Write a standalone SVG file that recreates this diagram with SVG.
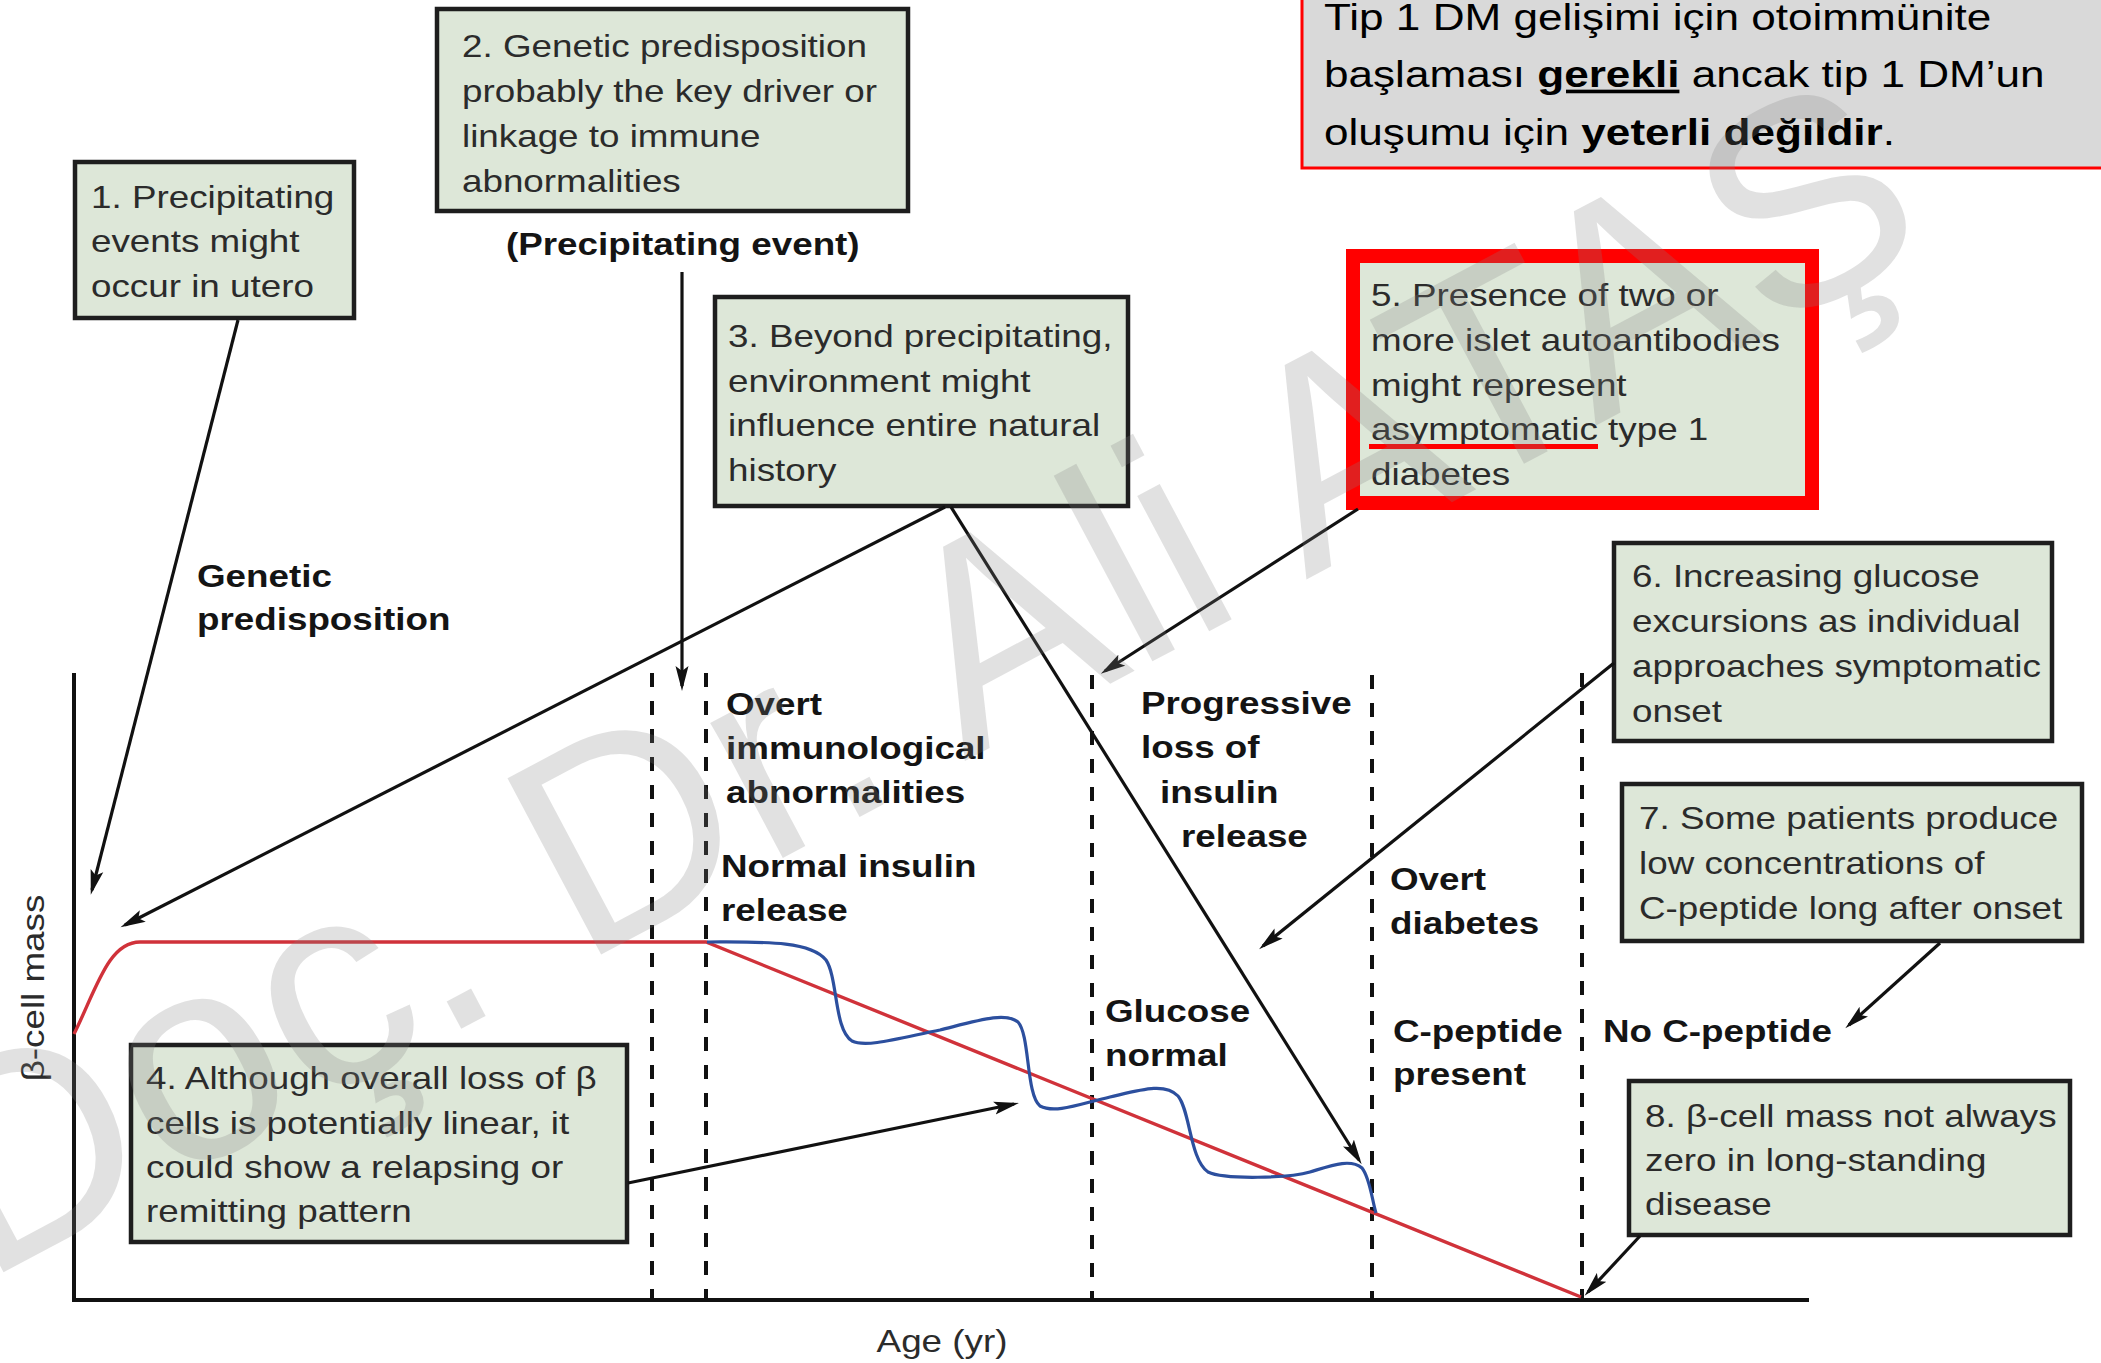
<svg xmlns="http://www.w3.org/2000/svg" width="2101" height="1363" viewBox="0 0 2101 1363">
<defs>
<style>
.box{fill:#dde7d8;stroke:#1e1e1e;stroke-width:4.5}
.bt{font-family:"Liberation Sans",Arial,sans-serif;font-size:32px;fill:#2b2b2b}
.lb{font-family:"Liberation Sans",Arial,sans-serif;font-size:32px;font-weight:bold;fill:#141414}
.tr{font-family:"Liberation Sans",Arial,sans-serif;font-size:36px;fill:#000}
.arr{stroke:#111;stroke-width:3.2;fill:none;marker-end:url(#ah)}
.dash{stroke:#111;stroke-width:4;stroke-dasharray:14 14;fill:none}
.axis{stroke:#111;stroke-width:4;fill:none}
</style>
<marker id="ah" markerUnits="userSpaceOnUse" markerWidth="26" markerHeight="14" refX="20" refY="7" orient="auto">
<path d="M0,0.5 L25,7 L0,13.5 L5,7 z" fill="#111"/>
</marker>
</defs>
<rect x="0" y="0" width="2101" height="1363" fill="#fff"/>

<g id="note">
<rect x="1302" y="-6" width="840" height="174" fill="#d9d9d9" stroke="#ff0000" stroke-width="3"/>
<g transform="translate(1324,0) scale(1.225,1)">
<text class="tr" x="0" y="30">Tip 1 DM gelişimi için otoimmünite</text>
<text class="tr" x="0" y="87">başlaması <tspan font-weight="bold" text-decoration="underline">gerekli</tspan> ancak tip 1 DM’un</text>
<text class="tr" x="0" y="145">oluşumu için <tspan font-weight="bold">yeterli değildir</tspan>.</text>
</g>
</g>

<g id="chart">
<line class="axis" x1="74" y1="673" x2="74" y2="1302"/>
<line class="axis" x1="72" y1="1300" x2="1809" y2="1300"/>
<line class="dash" x1="652" y1="673" x2="652" y2="1300"/>
<line class="dash" x1="706" y1="673" x2="706" y2="1300"/>
<line class="dash" x1="1092" y1="675" x2="1092" y2="1300"/>
<line class="dash" x1="1372" y1="675" x2="1372" y2="1300"/>
<line class="dash" x1="1582" y1="673" x2="1582" y2="1300"/>
<path d="M74,1034 C96,990 108,942 140,942 L706,942 L1581,1297" fill="none" stroke="#d0323a" stroke-width="3.4"/>
<path d="M707,942 C760,942 810,940 826,960 C838,978 834,1030 852,1041 C866,1048 900,1038 940,1030 C980,1020 1005,1012 1018,1022 C1030,1035 1026,1095 1040,1106 C1055,1114 1080,1104 1110,1097 C1140,1090 1165,1082 1178,1096 C1190,1110 1190,1160 1208,1172 C1225,1180 1290,1178 1310,1172 C1330,1166 1350,1158 1362,1168 C1370,1178 1372,1200 1376,1213" fill="none" stroke="#2c4f9e" stroke-width="3.2"/>
<g transform="translate(44,988) rotate(-90) scale(1.15,1)"><text class="bt" x="0" y="0" text-anchor="middle" fill="#222">β-cell mass</text></g>
<g transform="translate(942,0) scale(1.15,1)"><text class="bt" x="0" y="1352" text-anchor="middle" fill="#222">Age (yr)</text></g>
</g>

<g id="labels">
<g transform="translate(506,0) scale(1.15,1)"><text class="lb" x="0" y="255">(Precipitating event)</text></g>
<g transform="translate(197,0) scale(1.15,1)"><text class="lb" x="0" y="587">Genetic</text><text class="lb" x="0" y="630">predisposition</text></g>
<g transform="translate(726,0) scale(1.15,1)"><text class="lb" x="0" y="715">Overt</text><text class="lb" x="0" y="759">immunological</text><text class="lb" x="0" y="803">abnormalities</text></g>
<g transform="translate(721,0) scale(1.15,1)"><text class="lb" x="0" y="877">Normal insulin</text><text class="lb" x="0" y="921">release</text></g>
<g transform="translate(1141,0) scale(1.15,1)"><text class="lb" x="0" y="714">Progressive</text><text class="lb" x="0" y="758">loss of</text></g>
<g transform="translate(1160,0) scale(1.15,1)"><text class="lb" x="0" y="803">insulin</text></g>
<g transform="translate(1181,0) scale(1.15,1)"><text class="lb" x="0" y="847">release</text></g>
<g transform="translate(1390,0) scale(1.15,1)"><text class="lb" x="0" y="890">Overt</text><text class="lb" x="0" y="934">diabetes</text></g>
<g transform="translate(1105,0) scale(1.15,1)"><text class="lb" x="0" y="1022">Glucose</text><text class="lb" x="0" y="1066">normal</text></g>
<g transform="translate(1393,0) scale(1.15,1)"><text class="lb" x="0" y="1042">C-peptide</text><text class="lb" x="0" y="1085">present</text></g>
<g transform="translate(1603,0) scale(1.15,1)"><text class="lb" x="0" y="1042">No C-peptide</text></g>
</g>

<g id="node1">
<rect class="box" x="75" y="162" width="279" height="156"/>
<g transform="translate(91,0) scale(1.15,1)"><text class="bt" x="0" y="208">1. Precipitating</text><text class="bt" x="0" y="252">events might</text><text class="bt" x="0" y="297">occur in utero</text></g>
</g>
<g id="node2">
<rect class="box" x="437" y="9" width="471" height="202"/>
<g transform="translate(462,0) scale(1.15,1)"><text class="bt" x="0" y="57">2. Genetic predisposition</text><text class="bt" x="0" y="102">probably the key driver or</text><text class="bt" x="0" y="147">linkage to immune</text><text class="bt" x="0" y="192">abnormalities</text></g>
</g>
<g id="node3">
<rect class="box" x="715" y="297" width="413" height="209"/>
<g transform="translate(728,0) scale(1.15,1)"><text class="bt" x="0" y="347">3. Beyond precipitating,</text><text class="bt" x="0" y="392">environment might</text><text class="bt" x="0" y="436">influence entire natural</text><text class="bt" x="0" y="481">history</text></g>
</g>
<g id="node4">
<rect class="box" x="131" y="1045" width="496" height="197"/>
<g transform="translate(146,0) scale(1.15,1)"><text class="bt" x="0" y="1089">4. Although overall loss of β</text><text class="bt" x="0" y="1134">cells is potentially linear, it</text><text class="bt" x="0" y="1178">could show a relapsing or</text><text class="bt" x="0" y="1222">remitting pattern</text></g>
</g>
<g id="node5">
<rect x="1353" y="256" width="459" height="247" fill="#dde7d8" stroke="#ff0000" stroke-width="14"/>
<g transform="translate(1371,0) scale(1.15,1)"><text class="bt" x="0" y="306">5. Presence of two or</text><text class="bt" x="0" y="351">more islet autoantibodies</text><text class="bt" x="0" y="396">might represent</text><text class="bt" x="0" y="440">asymptomatic type 1</text><text class="bt" x="0" y="485">diabetes</text></g>
<rect x="1369" y="444" width="229" height="5" fill="#ff0000"/>
</g>
<g id="node6">
<rect class="box" x="1614" y="543" width="438" height="198"/>
<g transform="translate(1632,0) scale(1.15,1)"><text class="bt" x="0" y="587">6. Increasing glucose</text><text class="bt" x="0" y="632">excursions as individual</text><text class="bt" x="0" y="677">approaches symptomatic</text><text class="bt" x="0" y="722">onset</text></g>
</g>
<g id="node7">
<rect class="box" x="1622" y="784" width="460" height="157"/>
<g transform="translate(1639,0) scale(1.15,1)"><text class="bt" x="0" y="829">7. Some patients produce</text><text class="bt" x="0" y="874">low concentrations of</text><text class="bt" x="0" y="919">C-peptide long after onset</text></g>
</g>
<g id="node8">
<rect class="box" x="1629" y="1081" width="441" height="154"/>
<g transform="translate(1645,0) scale(1.15,1)"><text class="bt" x="0" y="1127">8. β-cell mass not always</text><text class="bt" x="0" y="1171">zero in long-standing</text><text class="bt" x="0" y="1215">disease</text></g>
</g>

<g id="connectors">
<line class="arr" x1="238" y1="320" x2="92" y2="890"/>
<line class="arr" x1="945" y1="507" x2="125" y2="925"/>
<line class="arr" x1="682" y1="272" x2="682" y2="686"/>
<line class="arr" x1="951" y1="507" x2="1359" y2="1160"/>
<line class="arr" x1="1358" y1="509" x2="1105" y2="671"/>
<line class="arr" x1="1614" y1="663" x2="1263" y2="946"/>
<line class="arr" x1="1940" y1="943" x2="1849" y2="1025"/>
<line class="arr" x1="628" y1="1183" x2="1014" y2="1104"/>
<line class="arr" x1="1640" y1="1236" x2="1588" y2="1292"/>
</g>

<g id="watermark" transform="translate(915,680) rotate(-28)">
<text x="0" y="95" text-anchor="middle" font-family="'Liberation Sans',Arial,sans-serif" font-size="290" fill="#808080" fill-opacity="0.24">Doç. Dr. Ali ATAŞ</text>
</g>
</svg>
